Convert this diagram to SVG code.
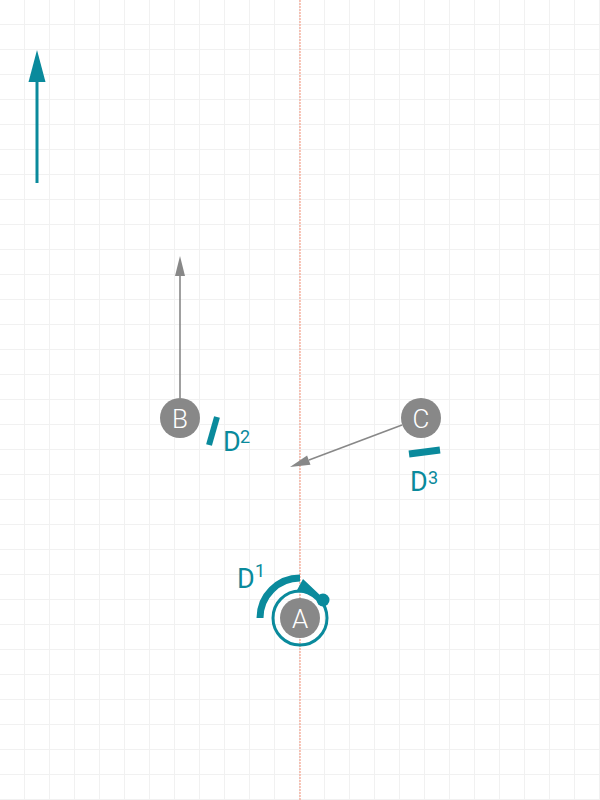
<svg xmlns="http://www.w3.org/2000/svg" width="600" height="800" viewBox="0 0 600 800">
<defs>
<pattern id="grid" x="0" y="0" width="25" height="25" patternUnits="userSpaceOnUse">
<path d="M25,0 V25 M0,25 H25" stroke="#f1f1f1" stroke-width="2" fill="none"/>
</pattern>
<style>
.node circle{fill:#888888}
.node text{fill:#ffffff;font-family:Roboto,"Liberation Sans",sans-serif;font-size:26px;font-weight:300;text-anchor:middle}
.lbl{fill:#0a8a9c;font-family:Roboto,"Liberation Sans",sans-serif;font-size:27px}
.sup{fill:#0a8a9c;font-family:Roboto,"Liberation Sans",sans-serif;font-size:18px}
.teal{stroke:#0a8a9c;fill:none}
.gray{stroke:#888888;fill:none;stroke-width:1.6}
</style>
</defs>
<rect width="600" height="800" fill="#ffffff"/>
<rect width="600" height="800" fill="url(#grid)"/>
<line x1="300" y1="0" x2="300" y2="800" stroke="#f3a08a" stroke-width="1.2" stroke-dasharray="2 1"/>
<g id="connectors">
<line class="teal" x1="37" y1="183" x2="37" y2="80" stroke-width="3"/>
<polygon points="37,50 28.5,82 45.5,82" fill="#0a8a9c"/>
<line class="gray" x1="180" y1="398" x2="180" y2="274"/>
<polygon points="180,256 175,276 185,276" fill="#888888"/>
<line class="gray" x1="402" y1="425" x2="309" y2="460"/>
<polygon points="290,467 310.5,464.8 307.1,455.4" fill="#888888"/>
</g>
<g id="D2">
<line class="teal" x1="217" y1="417" x2="209" y2="445" stroke-width="6"/>
<text class="lbl" x="223" y="451">D</text><text class="sup" x="240" y="443">2</text>
</g>
<g id="D3">
<line class="teal" x1="409" y1="454" x2="440" y2="450" stroke-width="7"/>
<text class="lbl" x="410" y="491">D</text><text class="sup" x="428" y="484">3</text>
</g>
<g id="D1">
<path class="teal" d="M260,618 A40,40 0 0 1 300,578" stroke-width="7"/>
<text class="lbl" x="237" y="588">D</text><text class="sup" x="255" y="577">1</text>
</g>
<g id="B" class="node">
<circle cx="180" cy="418" r="20"/>
<text x="180" y="428">B</text>
</g>
<g id="C" class="node">
<circle cx="421" cy="418" r="20"/>
<text x="421" y="428">C</text>
</g>
<g id="A" class="node">
<circle cx="300" cy="618" r="27" style="fill:none" stroke="#0a8a9c" stroke-width="3"/>
<path d="M296,592 L303,579 L322,597 L317,601 Q308,592 296,592 Z" fill="#0a8a9c"/>
<circle cx="323" cy="600" r="6.5" style="fill:#0a8a9c"/>
<circle cx="300" cy="618" r="20"/>
<text x="300" y="628">A</text>
</g>
</svg>
